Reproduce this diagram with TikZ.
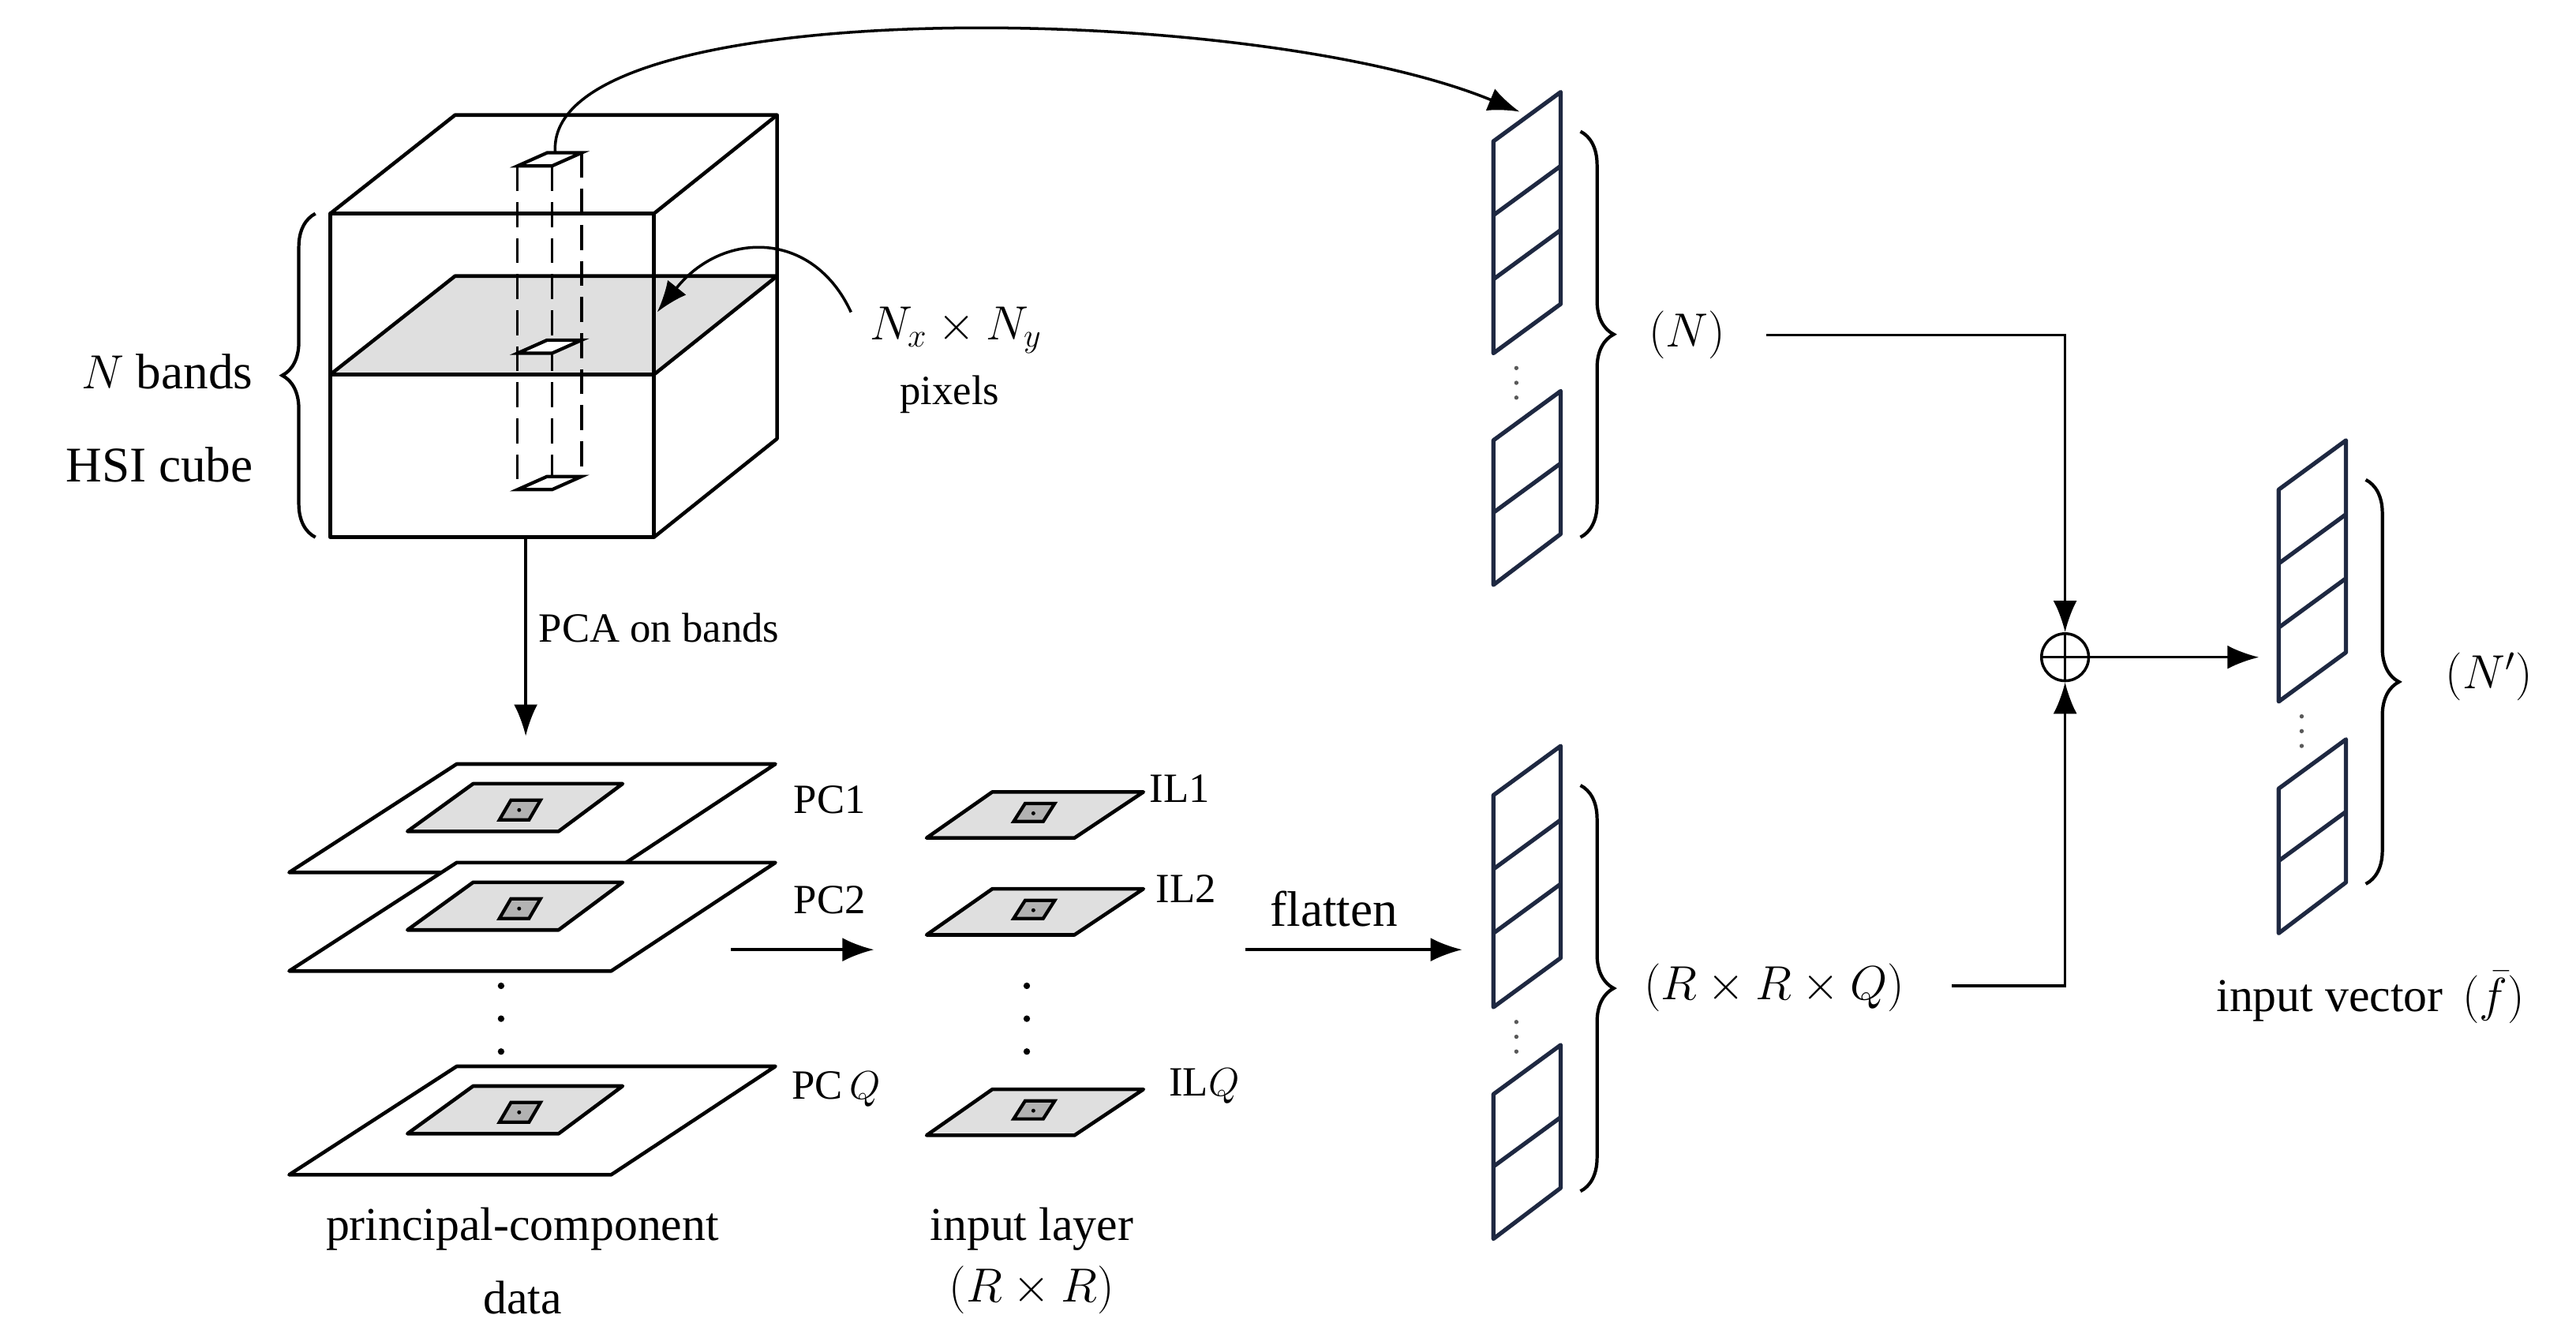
\documentclass[tikz,border=0pt]{standalone}
\usepackage{fontspec}
\setmainfont{Liberation Serif}
\usetikzlibrary{decorations.pathreplacing,arrows.meta}
\begin{document}
\begin{tikzpicture}[x=0.20816mm,y=-0.20816mm,
  ln/.style={line width=1.3pt,line join=round},
  vl/.style={line width=1.5pt,draw={rgb,255:red,30;green,40;blue,65},line join=round},
  arr/.style={line width=1pt,-{Latex[length=4mm,width=3mm]}},
  lab/.style={inner sep=1pt,font=\fontsize{15}{18}\selectfont},
  mlab/.style={inner sep=1pt,font=\fontsize{17}{20}\selectfont},
  big/.style={inner sep=1pt,font=\fontsize{18}{21}\selectfont},
  br/.style={line width=1.2pt,decorate,decoration={brace,amplitude=12pt}}]
\useasboundingbox (0,0) rectangle (1568,816);
% cube
\draw[ln] (201,130) -- (277,70) -- (473,70) -- (473,267) -- (398,327);
\draw[ln] (398,130) -- (473,70);
\draw[ln,fill=gray!25] (201,228) -- (277,168) -- (473,168) -- (398,228) -- cycle;
\draw[ln] (201,130) rectangle (398,327);
\draw[ln] (201,228) -- (398,228);
% pixel column
\draw[line width=1pt,dash pattern=on 9pt off 4pt] (315,101) -- (315,298) (336,101) -- (336,298) (354,93) -- (354,290);
\foreach \yy in {101,215,298}{
  \draw[line width=1.2pt,fill=white] (315,\yy) -- (336,\yy) -- (354,\yy-8) -- (333,\yy-8) -- cycle;}
\coordinate (colTop) at (338,93);
% braces and labels
\draw[br] (192,327) -- (192,130);
\node[big,anchor=east] (nb) at (156,226) {$N$ bands};
\node[big,anchor=east] (hsi) at (156,283) {HSI cube};
\node[mlab] (nxy) at (582,201) {$N_x\times N_y$};
\node[lab] (pix) at (578,240) {pixels};
\draw[line width=1pt,-{Latex[length=4mm,width=3mm]}] (518,190) .. controls (495,140) and (440,140) .. (400,190);
% PCA arrow
\coordinate (cubeB) at (320,327);
\coordinate (pcaEnd) at (320,448);
\draw[arr] (cubeB) -- (pcaEnd);
\node[lab,anchor=west] (pca) at (326,382) {PCA on bands};
% PC planes
\foreach \dy in {0,60,184}{
  \begin{scope}[shift={(0,\dy)}]
  \draw[ln,fill=white] (176,531) -- (372,531) -- (472,465) -- (278,465) -- cycle;
  \draw[ln,fill=gray!25] (248,506) -- (340,506) -- (379,477) -- (288,477) -- cycle;
  \draw[line width=1.2pt,fill=gray!60] (304,499) -- (322,499) -- (329,487) -- (311,487) -- cycle;
  \fill (316,493) circle (1.2);
  \end{scope}}
\node[lab] (pc1) at (505,487) {PC1};
\node[lab] (pc2) at (505,548) {PC2};
\node[lab] (pcq) at (509,663) {PC\,$Q$};
\foreach \yy in {600,620,640} \fill (305,\yy) circle (2);
% IL planes
\foreach \dy in {0,59,181}{
  \begin{scope}[shift={(0,\dy)}]
  \draw[ln,fill=gray!25] (564,510) -- (654,510) -- (696,482) -- (604,482) -- cycle;
  \draw[line width=1.2pt,fill=gray!60] (617,500) -- (635,500) -- (642,489) -- (624,489) -- cycle;
  \fill (629,495) circle (1.2);
  \end{scope}}
\node[lab] (il1) at (718,480) {IL1};
\node[lab] (il2) at (722,541) {IL2};
\node[lab] (ilq) at (733,661) {IL$Q$};
\foreach \yy in {600,620,640} \fill (625,\yy) circle (2);
\coordinate (pcR) at (445,578); \coordinate (ilL) at (532,578);
\draw[arr] (pcR) -- (ilL);
\node[mlab] (pcd1) at (318,748) {principal-component};
\node[mlab] (pcd2) at (318,790) {data};
\node[mlab] (inl1) at (628,748) {input layer};
\node[mlab] (inl2) at (628,785) {$(R\times R)$};
% flatten
\node[big] (fl) at (812,553) {flatten};
\coordinate (flA) at (758,578); \coordinate (flB) at (890,578);
\draw[arr] (flA) -- (flB);
% vectors
\foreach \sx/\sy in {909/86,909/484,1387/298}{
  \begin{scope}[shift={(\sx,\sy)}]
  \draw[vl] (0,0) -- (41,-30) -- (41,99) -- (0,129) -- cycle;
  \draw[vl] (0,45) -- (41,15) (0,84) -- (41,54);
  \draw[vl] (0,182) -- (41,152) -- (41,239) -- (0,270) -- cycle;
  \draw[vl] (0,226) -- (41,196);
  \foreach \d in {138,147,156} \fill[gray!70!black] (14,\d) circle (1.3);
  \end{scope}}
\draw[br] (962,80) -- (962,327);
\draw[br] (962,478) -- (962,725);
\draw[br] (1440,292) -- (1440,538);
\node[mlab] (vN) at (1027,204) {$(N)$};
\node[mlab] (vR) at (1080,601) {$(R\times R\times Q)$};
\node[mlab] (vNp) at (1515,412) {$(N')$};
\node[mlab] (iv) at (1443,607) {input vector\, $(\bar f)$};
\coordinate (v1top) at (925,68);
\draw[arr] (colTop) .. controls (330,-5) and (760,0) .. (v1top);
\node[draw,circle,line width=1pt,inner sep=0pt,minimum size=17] (op) at (1257,400) {};
\draw[line width=1pt] (op.north) -- (op.south) (op.west) -- (op.east);
\coordinate (nE) at (1075,204); \coordinate (rE) at (1188,600);
\draw[line width=1pt,-{Latex[length=4mm,width=3mm]}] (nE) -| (op.north);
\draw[line width=1pt,-{Latex[length=4mm,width=3mm]}] (rE) -| (op.south);
\coordinate (v3L) at (1375,400);
\draw[arr] (op.east) -- (v3L);
\end{tikzpicture}
\end{document}
